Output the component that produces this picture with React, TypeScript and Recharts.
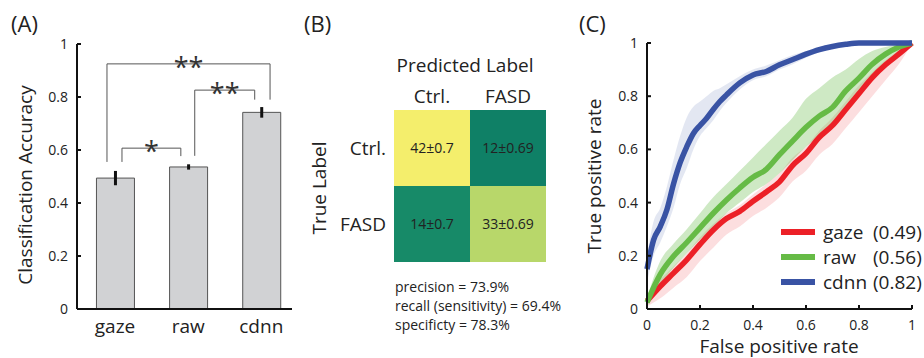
import React from 'react';
import {
  ComposedChart,
  Bar,
  ErrorBar,
  XAxis,
  YAxis,
  ReferenceLine,
  ReferenceArea,
  Line,
  Area,
  Legend,
} from 'recharts';

const FONT = '"Open Sans", "Noto Sans", sans-serif';
const INK = '#222';

// ---------- Panel A: classification accuracy ----------
const methods = ['gaze', 'raw', 'cdnn'];
const accuracy = [0.494, 0.536, 0.742];
const accuracyErr = [0.027, 0.01, 0.02];
const unitTicks = [0, 0.2, 0.4, 0.6, 0.8, 1];

// significance brackets (data units)
const bracketLeft = [0.89, 2.09, 1.095];
const bracketRight = [3.12, 2.91, 1.9];
const bracketTop = [0.925, 0.826, 0.607];
const bracketLeftEnd = [0.555, 0.578, 0.555];
const bracketRightEnd = [0.79, 0.79, 0.577];
const bracketStars = ['**', '**', '*'];

// ---------- Panel B: confusion matrix ----------
const predLabels = ['Ctrl.', 'FASD'];
const trueLabels = ['Ctrl.', 'FASD'];
const cellMeans = [
  [42, 12],
  [14, 33],
];
const cellSd = [
  ['0.7', '0.69'],
  ['0.7', '0.69'],
];
const cellColors = [
  ['#f4ee6c', '#0f8066'],
  ['#178a68', '#b8d76a'],
];
const metricsText = [
  'precision = 73.9%',
  'recall (sensitivity) = 69.4%',
  'specificty = 78.3%',
];

// ---------- Panel C: ROC ----------
const gazeFpr = [0, 0.05, 0.1, 0.15, 0.2, 0.25, 0.3, 0.35, 0.4, 0.45, 0.5, 0.55, 0.6, 0.65, 0.7, 0.75, 0.8, 0.85, 0.9, 0.95, 1];
const gazeTpr = [0.03, 0.085, 0.135, 0.185, 0.243, 0.297, 0.34, 0.367, 0.405, 0.44, 0.478, 0.54, 0.585, 0.645, 0.69, 0.75, 0.81, 0.87, 0.918, 0.958, 1];
const gazeLow = [0.01, 0.04, 0.08, 0.12, 0.18, 0.23, 0.28, 0.31, 0.35, 0.38, 0.42, 0.48, 0.52, 0.58, 0.62, 0.68, 0.74, 0.8, 0.86, 0.92, 1];
const gazeHigh = [0.05, 0.11, 0.16, 0.21, 0.27, 0.32, 0.36, 0.39, 0.43, 0.47, 0.51, 0.57, 0.61, 0.67, 0.72, 0.78, 0.84, 0.89, 0.935, 0.97, 1];

const rawFpr = [0, 0.05, 0.1, 0.15, 0.2, 0.25, 0.3, 0.35, 0.4, 0.45, 0.5, 0.55, 0.6, 0.65, 0.7, 0.75, 0.8, 0.85, 0.9, 0.95, 1];
const rawTpr = [0.025, 0.13, 0.198, 0.25, 0.305, 0.36, 0.41, 0.455, 0.495, 0.525, 0.58, 0.632, 0.683, 0.725, 0.758, 0.82, 0.868, 0.92, 0.958, 0.985, 1];
const rawLow = [0.01, 0.09, 0.155, 0.21, 0.26, 0.31, 0.36, 0.4, 0.44, 0.47, 0.51, 0.56, 0.61, 0.65, 0.69, 0.76, 0.82, 0.88, 0.93, 0.97, 1];
const rawHigh = [0.04, 0.18, 0.245, 0.3, 0.36, 0.42, 0.47, 0.52, 0.57, 0.62, 0.67, 0.72, 0.79, 0.83, 0.87, 0.9, 0.94, 0.97, 0.985, 0.995, 1];

const cdnnFpr = [0, 0.025, 0.05, 0.075, 0.1, 0.125, 0.15, 0.175, 0.2, 0.225, 0.25, 0.275, 0.3, 0.35, 0.4, 0.45, 0.5, 0.55, 0.6, 0.65, 0.7, 0.75, 0.8, 0.9, 1];
const cdnnTpr = [0.15, 0.26, 0.31, 0.373, 0.47, 0.55, 0.61, 0.66, 0.69, 0.717, 0.75, 0.78, 0.805, 0.85, 0.88, 0.893, 0.918, 0.938, 0.958, 0.975, 0.987, 0.995, 1, 1, 1];
const cdnnLow = [0.1, 0.2, 0.25, 0.31, 0.38, 0.47, 0.53, 0.6, 0.65, 0.68, 0.71, 0.745, 0.775, 0.825, 0.86, 0.875, 0.9, 0.92, 0.945, 0.965, 0.98, 0.99, 0.995, 1, 1];
const cdnnHigh = [0.2, 0.33, 0.38, 0.46, 0.56, 0.65, 0.72, 0.76, 0.78, 0.8, 0.82, 0.83, 0.845, 0.875, 0.9, 0.915, 0.935, 0.955, 0.97, 0.985, 0.995, 1, 1, 1, 1];

const rocNames = ['gaze', 'raw', 'cdnn'];
const rocAuc = ['(0.49)', '(0.56)', '(0.82)'];
const rocColors = ['#ec2027', '#66bb46', '#3953a4'];
const rocBandOpacity = [0.15, 0.32, 0.14];

const build = (fpr: number[], tpr: number[], lo: number[], hi: number[]) =>
  fpr.map((x, i) => ({ x, y: tpr[i], band: [lo[i], hi[i]] }));

const rocSeries = [
  build(gazeFpr, gazeTpr, gazeLow, gazeHigh),
  build(rawFpr, rawTpr, rawLow, rawHigh),
  build(cdnnFpr, cdnnTpr, cdnnLow, cdnnHigh),
];

const barData = methods.map((m, i) => ({ pos: i + 1, name: m, acc: accuracy[i], err: accuracyErr[i] }));
const cells = cellMeans.flatMap((row, r) =>
  row.map((m, c) => ({ r, c, label: `${m}±${cellSd[r][c]}`, color: cellColors[r][c] }))
);

const axisStroke = { stroke: '#111', strokeWidth: 2 };
const tickFont = { fill: INK, fontSize: 14, fontFamily: FONT };
const fmtUnit = (v: number) => String(v);

const StarLabel = (star: string) => (props: any) => {
  const vb = props.viewBox || {};
  const cx = (vb.x ?? 0) + (vb.width ?? 0) / 2;
  const y = vb.y ?? 0;
  return (
    <text x={cx} y={y + 13} textAnchor="middle" fontSize={27} fontFamily={FONT} fill="#333">
      {star}
    </text>
  );
};

const LegendContent = () => (
  <svg width={145} height={80}>
    {rocNames.map((n, i) => (
      <g key={n}>
        <line x1={0} x2={34} y1={12 + i * 25} y2={12 + i * 25} stroke={rocColors[i]} strokeWidth={6} />
        <text x={42} y={19 + i * 25} fontSize={19} fontFamily={FONT} fill={INK}>
          {n}
        </text>
        <text x={92} y={19 + i * 25} fontSize={19} fontFamily={FONT} fill={INK}>
          {rocAuc[i]}
        </text>
      </g>
    ))}
  </svg>
);

export default function App() {
  return (
    <div style={{ position: 'absolute', left: 0, top: 0, width: 924, height: 358, background: '#fff', overflow: 'hidden' }}>
      {/* Panel A */}
      <div style={{ position: 'absolute', left: 0, top: 0 }}>
        <ComposedChart width={300} height={358} data={barData} margin={{ top: 44, right: 8, bottom: 19, left: 37 }}>
          <XAxis
            type="number"
            dataKey="pos"
            domain={[0.48, 3.42]}
            ticks={[1, 2, 3]}
            interval={0}
            tickFormatter={(v: number) => methods[Math.round(v) - 1]}
            tickLine={false}
            tickSize={0}
            tickMargin={11}
            height={30}
            axisLine={axisStroke}
            tick={{ fill: INK, fontSize: 19, fontFamily: FONT }}
          />
          <YAxis
            type="number"
            domain={[0, 1]}
            ticks={unitTicks}
            interval={0}
            tickFormatter={fmtUnit}
            width={40}
            tickSize={-4}
            tickMargin={13}
            axisLine={axisStroke}
            tickLine={axisStroke}
            tick={tickFont}
          />
          <Bar dataKey="acc" barSize={38} fill="#d1d2d4" stroke="#555" strokeWidth={1} isAnimationActive={false}>
            <ErrorBar dataKey="err" width={0} strokeWidth={3} stroke="#111" />
          </Bar>
          {bracketStars.flatMap((star, i) => [
            <ReferenceLine
              key={`bl${i}`}
              segment={[
                { x: bracketLeft[i], y: bracketLeftEnd[i] },
                { x: bracketLeft[i], y: bracketTop[i] },
              ]}
              stroke="#555"
              strokeWidth={1}
            />,
            <ReferenceLine
              key={`bt${i}`}
              segment={[
                { x: bracketLeft[i], y: bracketTop[i] },
                { x: bracketRight[i], y: bracketTop[i] },
              ]}
              stroke="#555"
              strokeWidth={1}
              label={StarLabel(star)}
            />,
            <ReferenceLine
              key={`br${i}`}
              segment={[
                { x: bracketRight[i], y: bracketTop[i] },
                { x: bracketRight[i], y: bracketRightEnd[i] },
              ]}
              stroke="#555"
              strokeWidth={1}
            />,
          ])}
        </ComposedChart>
      </div>

      {/* Panel B */}
      <div style={{ position: 'absolute', left: 290, top: 0 }}>
        <ComposedChart width={300} height={358} data={cells} margin={{ top: 80, right: 44, bottom: 96, left: 44 }}>
          <XAxis
            type="number"
            dataKey="c"
            orientation="top"
            domain={[0, 2]}
            ticks={[0.5, 1.5]}
            interval={0}
            tickFormatter={(v: number) => predLabels[Math.floor(v)]}
            axisLine={false}
            tickLine={false}
            tickSize={0}
            tickMargin={7}
            height={30}
            tick={{ fill: INK, fontSize: 19, fontFamily: FONT }}
          />
          <YAxis
            type="number"
            dataKey="r"
            domain={[0, 2]}
            reversed
            ticks={[0.5, 1.5]}
            interval={0}
            tickFormatter={(v: number) => trueLabels[Math.floor(v)]}
            axisLine={false}
            tickLine={false}
            tickSize={0}
            tickMargin={8}
            width={60}
            tick={{ fill: INK, fontSize: 19, fontFamily: FONT }}
          />
          {cells.map((cell) => (
            <ReferenceArea
              key={`${cell.r}-${cell.c}`}
              x1={cell.c}
              x2={cell.c + 1}
              y1={cell.r}
              y2={cell.r + 1}
              fill={cell.color}
              fillOpacity={1}
              stroke="none"
              label={{ value: cell.label, position: 'center', fill: INK, fontSize: 14, fontFamily: FONT }}
            />
          ))}
        </ComposedChart>
      </div>

      {/* Panel C */}
      <div style={{ position: 'absolute', left: 590, top: 0 }}>
        <ComposedChart width={334} height={358} margin={{ top: 43, right: 12, bottom: 19, left: 17 }}>
          <XAxis
            type="number"
            dataKey="x"
            domain={[0, 1]}
            ticks={unitTicks}
            interval={0}
            tickFormatter={fmtUnit}
            height={30}
            tickSize={-4}
            tickMargin={15}
            axisLine={axisStroke}
            tickLine={axisStroke}
            tick={tickFont}
            allowDuplicatedCategory={false}
          />
          <YAxis
            type="number"
            domain={[0, 1]}
            ticks={unitTicks}
            interval={0}
            tickFormatter={fmtUnit}
            width={40}
            tickSize={-4}
            tickMargin={13}
            axisLine={axisStroke}
            tickLine={axisStroke}
            tick={tickFont}
          />
          {rocSeries.map((d, i) => (
            <Area
              key={`band${i}`}
              data={d}
              dataKey="band"
              type="monotone"
              stroke="none"
              fill={rocColors[i]}
              fillOpacity={rocBandOpacity[i]}
              isAnimationActive={false}
              activeDot={false}
            />
          ))}
          {rocSeries.map((d, i) => (
            <Line
              key={`line${i}`}
              data={d}
              dataKey="y"
              type="monotone"
              stroke={rocColors[i]}
              strokeWidth={5.5}
              dot={false}
              activeDot={false}
              isAnimationActive={false}
            />
          ))}
          <Legend
            layout="vertical"
            align="center"
            verticalAlign="middle"
            content={LegendContent}
            wrapperStyle={{ position: 'absolute', left: 191, top: 220, width: 145, height: 80 }}
          />
        </ComposedChart>
      </div>

      {/* Titles and free text */}
      <svg width={924} height={358} style={{ position: 'absolute', left: 0, top: 0, pointerEvents: 'none' }}>
        <g fontFamily={FONT} fill={INK}>
          <text x={11} y={32} fontSize={22}>(A)</text>
          <text x={304} y={32} fontSize={22}>(B)</text>
          <text x={579} y={32} fontSize={22}>(C)</text>
          <text transform="translate(32,185) rotate(-90)" textAnchor="middle" fontSize={19}>
            Classification Accuracy
          </text>
          <text x={465} y={72} textAnchor="middle" fontSize={19}>Predicted Label</text>
          <text transform="translate(326,188) rotate(-90)" textAnchor="middle" fontSize={19}>
            True Label
          </text>
          {metricsText.map((t, i) => (
            <text key={t} x={395} y={292 + i * 19} fontSize={14}>
              {t}
            </text>
          ))}
          <text transform="translate(601,176) rotate(-90)" textAnchor="middle" fontSize={19}>
            True positive rate
          </text>
          <text x={779} y={353} textAnchor="middle" fontSize={19}>False positive rate</text>
        </g>
      </svg>
    </div>
  );
}
